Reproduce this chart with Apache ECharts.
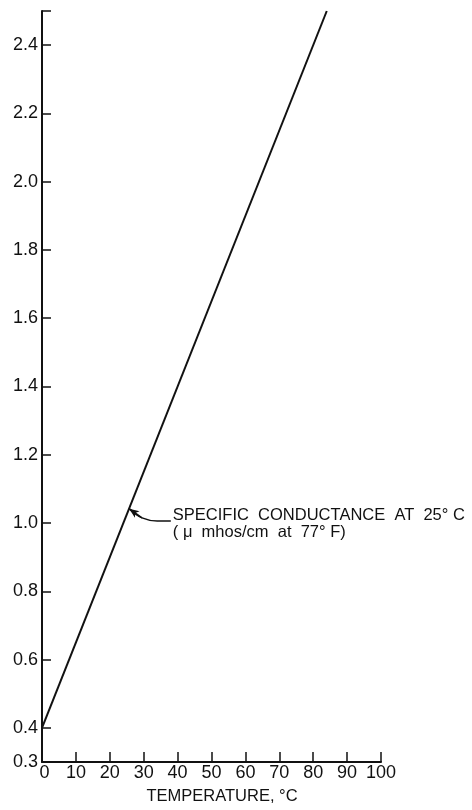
<!DOCTYPE html>
<html>
<head>
<meta charset="utf-8">
<script src="https://cdn.jsdelivr.net/npm/echarts@6/dist/echarts.min.js"></script>
<style>
html,body{margin:0;padding:0;background:#fff;}
#chart{width:472px;height:810px;}
</style>
</head>
<body>
<div id="chart"></div>
<script>
// Data
var temperature = [0, 84];
var conductanceFactor = [0.4, 2.5];
var xTickValues = [0, 10, 20, 30, 40, 50, 60, 70, 80, 90, 100];
var yLabelValues = [0.3, 0.4, 0.6, 0.8, 1.0, 1.2, 1.4, 1.6, 1.8, 2.0, 2.2, 2.4];
var yTickValues = [0.4, 0.6, 0.8, 1.0, 1.2, 1.4, 1.6, 1.8, 2.0, 2.2, 2.4, 2.5];
var xAxisTitle = 'TEMPERATURE, °C';
var noteLines = ['SPECIFIC  CONDUCTANCE  AT  25° C', '( μ  mhos/cm  at  77° F)'];
var notePoint = [38.6, 0.998];
// leader curve from the note to the line
var leaderX = [38.0, 34.0, 29.5, 25.7];
var leaderY = [1.006, 1.006, 1.015, 1.042];

var lineData = temperature.map(function (t, i) { return [t, conductanceFactor[i]]; });
var leaderData = leaderX.map(function (t, i) { return [t, leaderY[i]]; });
var n = leaderData.length;
var ink = '#111';
var fontFam = 'Liberation Sans, Arial, sans-serif';

var chart = echarts.init(document.getElementById('chart'));
chart.setOption({
  backgroundColor: '#ffffff',
  animation: false,
  grid: { left: 42, right: 91, top: 11, bottom: 44, containLabel: false },
  xAxis: {
    type: 'value', min: 0, max: 100, interval: 10,
    axisLine: { show: true, lineStyle: { color: ink, width: 2 } },
    axisTick: { show: true, inside: true, length: 10, lineStyle: { color: ink, width: 1.5 }, customValues: xTickValues.slice(1) },
    axisLabel: { color: ink, fontSize: 18, fontFamily: fontFam, margin: 2, customValues: xTickValues,
      formatter: function (v) { return v === 0 ? ' 0' : String(v); } },
    splitLine: { show: false },
    name: xAxisTitle, nameLocation: 'middle', nameGap: 26,
    nameTextStyle: { color: ink, fontSize: 16.5, fontFamily: fontFam, padding: [0, 0, 0, 21] }
  },
  yAxis: {
    type: 'value', min: 0.3, max: 2.5,
    axisLine: { show: true, lineStyle: { color: ink, width: 2 } },
    axisTick: { show: true, inside: true, length: 9, lineStyle: { color: ink, width: 1.5 }, customValues: yTickValues },
    axisLabel: { color: ink, fontSize: 18, fontFamily: fontFam, margin: 4, customValues: yLabelValues,
      formatter: function (v) { return v.toFixed(1); } },
    splitLine: { show: false }
  },
  series: [{
    type: 'line',
    data: lineData,
    showSymbol: false,
    lineStyle: { color: ink, width: 2 },
    markPoint: {
      symbol: 'circle', symbolSize: 0,
      data: [{ coord: notePoint }],
      label: {
        show: true, position: 'right', distance: 0,
        color: ink, fontSize: 16.5, fontFamily: fontFam, lineHeight: 17, align: 'left',
        formatter: noteLines.join('\n')
      }
    }
  }, {
    type: 'line',
    data: leaderData,
    smooth: 0.4,
    showSymbol: false,
    silent: true,
    lineStyle: { color: ink, width: 1.5 },
    markLine: {
      silent: true,
      symbol: ['none', 'arrow'], symbolSize: [6, 10],
      label: { show: false },
      lineStyle: { color: ink, width: 1.5, type: 'solid' },
      data: [[{ coord: leaderData[n - 2] }, { coord: leaderData[n - 1] }]]
    }
  }]
});
</script>
</body>
</html>
